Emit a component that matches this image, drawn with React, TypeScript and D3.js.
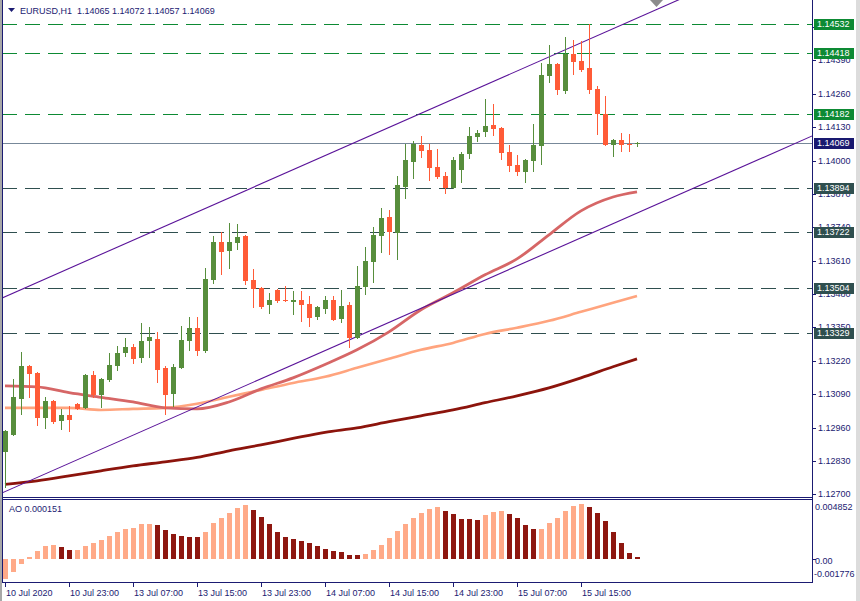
import React from "react";
import * as d3 from "d3";

// ---------- DATA ----------
const opens = [
  1.12866, 1.12932, 1.13072, 1.13201, 1.13174, 1.12998, 1.13064, 1.12986, 1.13010, 1.13052,
  1.13037, 1.13166, 1.13088, 1.13146, 1.13201, 1.13252, 1.13275, 1.13232, 1.13298, 1.13305,
  1.13193, 1.13092, 1.13193, 1.13298, 1.13348, 1.13259, 1.13535, 1.13684, 1.13648, 1.13680,
  1.13707, 1.13535, 1.13504, 1.13438, 1.13496, 1.13457, 1.13449, 1.13457, 1.13442, 1.13391,
  1.13422, 1.13457, 1.13383, 1.13438, 1.13310, 1.13508, 1.13605, 1.13707, 1.13781, 1.13719,
  1.13898, 1.13994, 1.14061, 1.14041, 1.13975, 1.13940, 1.13894, 1.13963, 1.14026, 1.14092,
  1.14111, 1.14139, 1.14127, 1.14034, 1.13983, 1.13955, 1.13998, 1.14057, 1.14330, 1.14376,
  1.14271, 1.14415, 1.14388, 1.14361, 1.14279, 1.14182, 1.14061, 1.14081, 1.14066, 1.14065,
];
const highs = [
  1.12951, 1.13150, 1.13255, 1.13205, 1.13178, 1.13080, 1.13066, 1.13033, 1.13045, 1.13056,
  1.13168, 1.13182, 1.13152, 1.13252, 1.13279, 1.13310, 1.13287, 1.13368, 1.13352, 1.13333,
  1.13201, 1.13209, 1.13356, 1.13391, 1.13391, 1.13582, 1.13707, 1.13723, 1.13758, 1.13754,
  1.13711, 1.13578, 1.13506, 1.13484, 1.13498, 1.13512, 1.13492, 1.13492, 1.13473, 1.13432,
  1.13473, 1.13473, 1.13496, 1.13449, 1.13590, 1.13664, 1.13742, 1.13816, 1.13808, 1.13940,
  1.14065, 1.14076, 1.14096, 1.14065, 1.14045, 1.13955, 1.14014, 1.14034, 1.14131, 1.14119,
  1.14240, 1.14221, 1.14129, 1.14061, 1.14022, 1.14006, 1.14143, 1.14380, 1.14450, 1.14380,
  1.14481, 1.14470, 1.14466, 1.14532, 1.14291, 1.14252, 1.14083, 1.14108, 1.14104, 1.14072,
];
const lows = [
  1.12730, 1.12932, 1.13014, 1.13080, 1.12971, 1.12959, 1.12980, 1.12955, 1.12947, 1.13033,
  1.13035, 1.13080, 1.13041, 1.13142, 1.13185, 1.13240, 1.13213, 1.13217, 1.13236, 1.13138,
  1.13014, 1.13045, 1.13191, 1.13263, 1.13244, 1.13255, 1.13524, 1.13559, 1.13582, 1.13656,
  1.13520, 1.13430, 1.13426, 1.13407, 1.13449, 1.13452, 1.13403, 1.13375, 1.13356, 1.13383,
  1.13407, 1.13378, 1.13371, 1.13275, 1.13308, 1.13481, 1.13527, 1.13644, 1.13637, 1.13617,
  1.13855, 1.13932, 1.14014, 1.13925, 1.13932, 1.13874, 1.13892, 1.13917, 1.14010, 1.14077,
  1.14096, 1.14100, 1.14006, 1.13960, 1.13944, 1.13917, 1.13960, 1.13987, 1.14306, 1.14260,
  1.14264, 1.14337, 1.14349, 1.14264, 1.14104, 1.14059, 1.14018, 1.14038, 1.14038, 1.14057,
];
const closes = [
  1.12947, 1.13080, 1.13201, 1.13170, 1.12998, 1.13064, 1.12982, 1.13010, 1.12990, 1.13033,
  1.13166, 1.13088, 1.13150, 1.13205, 1.13252, 1.13275, 1.13228, 1.13298, 1.13313, 1.13185,
  1.13088, 1.13197, 1.13301, 1.13348, 1.13259, 1.13540, 1.13684, 1.13644, 1.13684, 1.13703,
  1.13532, 1.13500, 1.13430, 1.13457, 1.13453, 1.13453, 1.13457, 1.13438, 1.13387, 1.13430,
  1.13457, 1.13379, 1.13434, 1.13310, 1.13512, 1.13609, 1.13711, 1.13777, 1.13723, 1.13905,
  1.14002, 1.14065, 1.14037, 1.13971, 1.13936, 1.13894, 1.14002, 1.14026, 1.14096, 1.14108,
  1.14135, 1.14123, 1.14030, 1.13979, 1.13955, 1.14002, 1.14061, 1.14333, 1.14376, 1.14275,
  1.14415, 1.14384, 1.14353, 1.14275, 1.14182, 1.14061, 1.14081, 1.14061, 1.14062, 1.14069,
];
const aoValues = [
  -0.001776, -0.00112, -0.00044, 0.00018, 0.00071, 0.00115, 0.00124, 0.00106, 0.00079, 0.00082,
  0.00115, 0.00141, 0.00168, 0.00203, 0.00238, 0.00265, 0.00273, 0.00306, 0.0031, 0.003,
  0.00256, 0.00221, 0.00203, 0.00196, 0.00193, 0.00238, 0.00318, 0.00362, 0.00406, 0.0045,
  0.00476, 0.00432, 0.00371, 0.00309, 0.00238, 0.00194, 0.00176, 0.00159, 0.00141, 0.00115,
  0.00088, 0.00071, 0.00062, 0.00037, 0.00034, 0.00044, 0.00079, 0.00124, 0.00185, 0.00247,
  0.00309, 0.00362, 0.00406, 0.00441, 0.00459, 0.00423, 0.00397, 0.00355, 0.00351, 0.00344,
  0.00388, 0.00415, 0.00423, 0.00397, 0.00362, 0.003, 0.00265, 0.00268, 0.00318, 0.00362,
  0.00423, 0.00468, 0.004852, 0.00459, 0.00406, 0.00335, 0.00238, 0.00141, 0.00053, 0.000151,
];
const timeLabels = [
  "10 Jul 2020", "10 Jul 23:00", "13 Jul 07:00", "13 Jul 15:00", "13 Jul 23:00",
  "14 Jul 07:00", "14 Jul 15:00", "14 Jul 23:00", "15 Jul 07:00", "15 Jul 15:00",
];
const timeLabelBars = [0, 8, 16, 24, 32, 40, 48, 56, 64, 72];
const priceTicks = [
  "1.12700", "1.12830", "1.12960", "1.13090", "1.13220", "1.13350", "1.13480", "1.13610",
  "1.13740", "1.13870", "1.14000", "1.14130", "1.14260", "1.14390", "1.14520",
];
const maBars = [0, 4, 8, 12, 16, 20, 24, 28, 32, 36, 40, 44, 48, 52, 56, 60, 64, 68, 72, 76, 79];
const maRed = [
  1.13123, 1.13119, 1.13096, 1.13078, 1.1306, 1.13037, 1.13033, 1.1306, 1.13111, 1.13154,
  1.13206, 1.13263, 1.13333, 1.13419, 1.13485, 1.13555, 1.13617, 1.13711, 1.13804, 1.13858, 1.13878,
];
const maSalmon = [
  1.13037, 1.13037, 1.13037, 1.13029, 1.13033, 1.13037, 1.13053, 1.1308, 1.13107, 1.13134,
  1.13158, 1.13193, 1.13228, 1.13263, 1.1329, 1.13325, 1.13349, 1.13376, 1.13411, 1.13446, 1.13473,
];
const maDark = [
  1.12739, 1.12753, 1.12772, 1.12792, 1.12811, 1.12827, 1.12844, 1.1287, 1.12893, 1.12918,
  1.12942, 1.12959, 1.12983, 1.13006, 1.13029, 1.13057, 1.13084, 1.13115, 1.13154, 1.13197, 1.13228,
];
const greenLevels = [1.14532, 1.14418, 1.14182];
const slateLevels = [1.13894, 1.13722, 1.13504, 1.13329];
const currentPrice = 1.14069;
const channelLowerBars = [0, 80];
const channelLowerPrices = [1.12711, 1.13809];
const channelWidth = 0.00759;
const headerText = "EURUSD,H1  1.14065 1.14072 1.14057 1.14069";
const aoText = "AO 0.000151";
const aoMax = 0.004852;
const aoMin = -0.001776;

// ---------- STYLE ----------
const NAVY = "#1b1b72";
const BULL = "#578e3c";
const BEAR = "#ff5b37";
const GREEN_LVL = "#0d8a34";
const SLATE_LVL = "#2f4f4f";
const FONT = "'Liberation Sans', Arial, sans-serif";

export default function App() {
  const left = 2, right = 812, mainBottom = 497, aoTop = 499, aoBottom = 582;
  const x = d3.scaleLinear().domain([0, 80]).range([5, 645]);
  const y = d3.scaleLinear().domain([1.1269, 1.14625]).range([mainBottom, 0]);
  const yAO = d3.scaleLinear().domain([aoMin, aoMax]).range([579, 504]);

  const maLine = d3
    .line<number>()
    .x((_, k) => x(maBars[k]))
    .y((d) => y(d))
    .curve(d3.curveMonotoneX);

  const slope = (channelLowerPrices[1] - channelLowerPrices[0]) / (channelLowerBars[1] - channelLowerBars[0]);
  const lowerAt = (i: number) => channelLowerPrices[0] + slope * (i - channelLowerBars[0]);
  const chLine = d3
    .line<number>()
    .x((i) => x(i))
    .y((i) => y(i));
  const chBars = [-1, 101];
  const lowerPath = d3
    .line<number>()
    .x((i) => x(i))
    .y((i) => y(lowerAt(i)))(chBars);
  const upperPath = d3
    .line<number>()
    .x((i) => x(i))
    .y((i) => y(lowerAt(i) + channelWidth))(chBars);
  void chLine;

  const fmt = d3.format(".5f");
  const yr = (p: number) => Math.round(y(p));

  const levelLabel = (p: number, fill: string, key: string) => {
    const yy = yr(p);
    return (
      <g key={key}>
        <rect x={814} y={yy - 5} width={40} height={11} fill={fill} />
        <text x={817} y={yy} dy="0.36em" fill="#ffffff" fontSize={9} fontFamily={FONT}>
          {fmt(p)}
        </text>
      </g>
    );
  };

  return (
    <svg
      width={860}
      height={601}
      style={{ position: "absolute", left: 0, top: 0, display: "block", background: "#ffffff" }}
    >
      <defs>
        <clipPath id="mainClip">
          <rect x={left + 1} y={0} width={right - left - 1} height={mainBottom} />
        </clipPath>
        <clipPath id="aoClip">
          <rect x={left + 1} y={aoTop + 1} width={right - left - 1} height={aoBottom - aoTop - 1} />
        </clipPath>
      </defs>
      <rect x={0} y={0} width={860} height={601} fill="#ffffff" />
      <rect x={0} y={0} width={2} height={601} fill="#a8a8a8" />
      <rect x={856} y={0} width={4} height={601} fill="#dcdcdc" />

      {/* main panel content */}
      <g clipPath="url(#mainClip)">
        {/* levels */}
        {greenLevels.map((p, k) => (
          <line key={"g" + k} x1={left} x2={right} y1={yr(p) + 0.5} y2={yr(p) + 0.5}
            stroke={GREEN_LVL} strokeWidth={1} strokeDasharray="15 8" shapeRendering="crispEdges" />
        ))}
        {slateLevels.map((p, k) => (
          <line key={"s" + k} x1={left} x2={right} y1={yr(p) + 0.5} y2={yr(p) + 0.5}
            stroke={SLATE_LVL} strokeWidth={1} strokeDasharray="15 8" shapeRendering="crispEdges" />
        ))}
        <line x1={left} x2={right} y1={yr(currentPrice) + 0.5} y2={yr(currentPrice) + 0.5}
          stroke="#778899" strokeWidth={1} shapeRendering="crispEdges" />

        {/* moving averages */}
        <path d={maLine(maDark) || ""} fill="none" stroke="#8c140c" strokeWidth={2.8} />
        <path d={maLine(maSalmon) || ""} fill="none" stroke="#ffa47e" strokeWidth={2.6} />
        <path d={maLine(maRed) || ""} fill="none" stroke="#d66666" strokeWidth={2.8} />

        {/* channel */}
        <path d={lowerPath || ""} fill="none" stroke="#5a1399" strokeWidth={1.1} />
        <path d={upperPath || ""} fill="none" stroke="#5a1399" strokeWidth={1.1} />

        {/* candles */}
        {opens.map((o, i) => {
          const c = closes[i];
          const col = c >= o ? BULL : BEAR;
          const cx = Math.round(x(i));
          const hi = yr(highs[i]);
          const lo = yr(lows[i]);
          const bt = yr(Math.max(o, c));
          const bb = yr(Math.min(o, c));
          return (
            <g key={"c" + i} shapeRendering="crispEdges">
              <rect x={cx} y={hi} width={1} height={Math.max(1, lo - hi + 1)} fill={col} />
              <rect x={cx - 2} y={bt} width={5} height={Math.max(1, bb - bt)} fill={col} />
            </g>
          );
        })}
      </g>

      {/* chart shift marker */}
      <polygon points="650,0 663,0 656.5,7" fill="#8c8c8c" />

      {/* AO panel */}
      <g clipPath="url(#aoClip)" shapeRendering="crispEdges">
        {aoValues.map((v, i) => {
          const up = i === 0 || v > aoValues[i - 1];
          const cx = Math.round(x(i));
          const y0 = Math.round(yAO(0));
          const yv = Math.round(yAO(v));
          return (
            <rect key={"a" + i} x={cx - 2} y={Math.min(y0, yv)} width={5}
              height={Math.max(1, Math.abs(yv - y0))} fill={up ? "#ffaa88" : "#8e1710"} />
          );
        })}
      </g>

      {/* frames */}
      <g stroke={NAVY} strokeWidth={1} fill="none" shapeRendering="crispEdges">
        <line x1={left + 0.5} x2={left + 0.5} y1={0} y2={aoBottom + 0.5} />
        <line x1={right + 0.5} x2={right + 0.5} y1={0} y2={aoBottom + 0.5} />
        <line x1={left} x2={right + 1} y1={mainBottom + 0.5} y2={mainBottom + 0.5} />
        <line x1={left} x2={right + 1} y1={aoTop + 0.5} y2={aoTop + 0.5} />
        <line x1={left} x2={right + 1} y1={aoBottom + 0.5} y2={aoBottom + 0.5} />
      </g>

      {/* header */}
      <polygon points="8,8 15,8 11.5,12" fill={NAVY} />
      <text x={20} y={13.5} fontSize={9} fontFamily={FONT} fill={NAVY}>
        {headerText.replace("  ", "\u00a0\u00a0")}
      </text>
      <text x={9} y={512} fontSize={9} fontFamily={FONT} fill={NAVY}>{aoText}</text>

      {/* price axis */}
      {priceTicks.map((t) => {
        const yy = yr(+t);
        return (
          <g key={t}>
            <line x1={812} x2={816} y1={yy + 0.5} y2={yy + 0.5} stroke={NAVY} shapeRendering="crispEdges" />
            <text x={818} y={yy} dy="0.36em" fontSize={9} fontFamily={FONT} fill={NAVY}>{t}</text>
          </g>
        );
      })}
      {greenLevels.map((p, k) => levelLabel(p, GREEN_LVL, "gl" + k))}
      {slateLevels.map((p, k) => levelLabel(p, SLATE_LVL, "sl" + k))}
      {levelLabel(currentPrice, "#191970", "cur")}

      {/* AO axis */}
      <text x={815} y={yAO(aoMax) + 3} dy="0.36em" fontSize={9} fontFamily={FONT} fill={NAVY}>
        {String(aoMax)}
      </text>
      <line x1={812} x2={816} y1={Math.round(yAO(0)) + 0.5} y2={Math.round(yAO(0)) + 0.5} stroke={NAVY} shapeRendering="crispEdges" />
      <text x={815} y={yAO(0) + 2} dy="0.36em" fontSize={9} fontFamily={FONT} fill={NAVY}>0.00</text>
      <text x={814} y={aoBottom - 8} dy="0.36em" fontSize={9} fontFamily={FONT} fill={NAVY}>
        {String(aoMin)}
      </text>

      {/* time axis */}
      {timeLabelBars.map((b, k) => {
        const tx = Math.round(x(b));
        return (
          <g key={"t" + k}>
            <line x1={tx + 0.5} x2={tx + 0.5} y1={aoBottom} y2={aoBottom + 5} stroke={NAVY} shapeRendering="crispEdges" />
            <text x={tx + 1} y={596} fontSize={9} fontFamily={FONT} fill={NAVY}>{timeLabels[k]}</text>
          </g>
        );
      })}
    </svg>
  );
}
